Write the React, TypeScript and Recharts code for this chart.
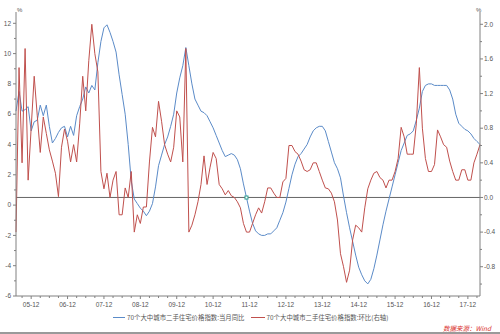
import React from "react";
import { LineChart, Line, XAxis, YAxis, ReferenceLine, ReferenceDot } from "recharts";

// monthly, 2005-07 .. 2018-04
const months: string[] = [];
for (let k = 0; k < 154; k++) {
  const t = 2005 * 12 + 6 + k;
  const yy = String(Math.floor(t / 12) % 100).padStart(2, "0");
  const mm = String((t % 12) + 1).padStart(2, "0");
  months.push(`${yy}-${mm}`);
}

// 当月同比 (left axis, %)
const yoy = [
  6.2, 7.5, 6.2, 6.3, 6.5, 4.9, 5.5, 5.6, 6.6, 5.9, 6.6, 5.2, 4.1, 4.4, 4.8, 5.1, 5.2, 4.5, 5.2, 4.6,
  5.9, 6.5, 7.0, 7.8, 7.4, 7.9, 7.6, 9.4, 10.8, 11.7, 11.9, 11.4, 10.8, 10.1, 8.6, 7.3, 6.0, 4.0, 1.6, 0.4,
  0.1, -0.2, -0.4, -0.7, -0.4, 0.1, 1.2, 2.6, 3.3, 4.0, 4.5, 5.2, 6.0, 7.4, 8.4, 9.2, 10.4, 9.2, 8.0, 7.0,
  6.6, 6.2, 6.1, 5.9, 5.5, 5.1, 4.6, 4.1, 3.6, 3.2, 3.3, 3.4, 3.3, 3.0, 2.4, 1.4, 0.5, -0.4, -1.2, -1.7,
  -1.9, -2.0, -2.0, -1.9, -1.9, -1.7, -1.5, -1.0, -0.5, 0.2, 1.1, 2.0, 2.7, 3.2, 3.4, 3.7, 4.0, 4.5, 4.9, 5.1,
  5.2, 5.2, 4.9, 4.2, 3.5, 2.8, 2.4, 1.8, 0.6, -0.5, -1.5, -2.4, -3.3, -4.1, -4.6, -5.0, -5.2, -4.9, -4.2, -3.3,
  -2.3, -1.3, -0.4, 0.4, 1.2, 2.0, 2.8, 3.6, 4.1, 4.6, 4.7, 4.9, 5.6, 6.4, 7.5, 7.9, 8.0, 8.0, 7.9, 7.9,
  7.9, 7.9, 7.9, 7.6, 7.0, 6.0, 5.4, 5.2, 5.0, 4.9, 4.7, 4.4, 4.2, 4.0,
];

// 环比 (right axis, %)
const mom = [
  -0.4, 1.5, 0.4, 1.72, 0.2, 0.8, 1.4, 0.95, 0.52, 0.93, 0.74, 0.55, 0.42, 0.28, 0.01, 0.58, 0.79, 0.65, 0.41, 0.61,
  0.41, 0.85, 1.4, 1.0, 1.58, 2.0, 1.66, 1.45, 0.3, 0.1, 0.28, 0.0, 0.2, 0.3, -0.2, -0.2, 0.11, 0.0, 0.3, -0.4,
  -0.2, -0.3, -0.11, -0.11, 0.41, 0.81, 0.7, 1.11, 0.88, 0.61, 0.5, 0.41, 0.58, 1.0, 0.93, 0.41, 1.72, -0.4, -0.32, -0.2,
  -0.05, 0.15, 0.48, 0.15, 0.35, 0.52, 0.45, 0.15, 0.1, 0.03, 0.08, 0.02, 0.0, -0.05, -0.12, -0.3, -0.4, -0.4, -0.3, -0.2,
  -0.12, -0.18, -0.05, 0.11, 0.11, 0.05, 0.0, 0.0, 0.18, 0.22, 0.6, 0.6, 0.53, 0.5, 0.42, 0.32, 0.3, 0.32, 0.4, 0.4,
  0.3, 0.2, 0.11, 0.1, 0.05, -0.05, -0.26, -0.65, -0.8, -0.98, -0.84, -0.49, -0.32, -0.35, -0.4, -0.12, 0.1, 0.2, 0.28, 0.3,
  0.23, 0.2, 0.11, 0.2, 0.2, 0.3, 0.45, 0.81, 0.7, 0.5, 0.5, 0.5, 0.85, 1.5, 0.8, 0.45, 0.3, 0.3, 0.38, 0.78,
  0.7, 0.61, 0.58, 0.42, 0.3, 0.2, 0.2, 0.32, 0.32, 0.2, 0.2, 0.4, 0.5, 0.61,
];

const leftTicks = [-6, -5, -4, -3, -2, -1, 0, 1, 2, 3, 4, 5, 6, 7, 8, 9, 10, 11, 12];
const rightTicks = [-1.0, -0.8, -0.6, -0.4, -0.2, 0, 0.2, 0.4, 0.6, 0.8, 1.0, 1.2, 1.4, 1.6, 1.8, 2.0];
const xTicks = months.filter((m) => ["03", "06", "09", "12"].includes(m.slice(3)));

const yoyName = "70个大中城市二手住宅价格指数:当月同比";
const momName = "70个大中城市二手住宅价格指数:环比(右轴)";

const data = months.map((m, i) => ({ m, yoy: yoy[i], mom: mom[i] }));

const BLUE = "#5b8bc8";
const RED = "#c0504d";
const AXIS = "#808080";
const TXT = "#555";
const FONT = "'Liberation Sans', Arial, sans-serif";
const CJK = "'Noto Sans CJK SC', sans-serif";

const LeftTick = (props: any) => {
  const { x, y, payload } = props;
  const v = payload.value;
  const major = v % 2 === 0;
  const ax = x + 5;
  return (
    <g>
      <line x1={ax - (major ? 3 : 2)} x2={ax} y1={y} y2={y} stroke={AXIS} />
      {major && (
        <text x={x} y={y} dy="0.35em" textAnchor="end" fontSize={6.5} fill={TXT} fontFamily={FONT}>
          {v}
        </text>
      )}
    </g>
  );
};

const RightTick = (props: any) => {
  const { x, y, payload } = props;
  const v = payload.value;
  const major = Math.round(v * 10) % 4 === 0;
  const ax = x - 4;
  return (
    <g>
      <line x1={ax} x2={ax + (major ? 3 : 2)} y1={y} y2={y} stroke={AXIS} />
      {major && (
        <text x={x} y={y} dy="0.35em" textAnchor="start" fontSize={6.5} fill={TXT} fontFamily={FONT}>
          {v.toFixed(1)}
        </text>
      )}
    </g>
  );
};

const BottomTick = (props: any) => {
  const { x, y, payload } = props;
  const v: string = payload.value;
  const major = v.slice(3) === "12";
  const ay = y - 6;
  return (
    <g>
      <line x1={x} x2={x} y1={ay} y2={ay + (major ? 3 : 2)} stroke={AXIS} />
      {major && (
        <text x={x} y={y} dy="0.71em" textAnchor="middle" fontSize={6.5} fill={TXT} fontFamily={FONT}>
          {v}
        </text>
      )}
    </g>
  );
};

const Marker = (props: any) => {
  const { cx, cy } = props;
  return <rect x={cx - 1.5} y={cy - 1.5} width={3} height={3} fill="#fff" stroke="#2a9d8f" strokeWidth={1} />;
};

export default function App() {
  return (
    <div style={{ position: "absolute", left: 0, top: 0, width: 500, height: 334, background: "#fff", overflow: "hidden" }}>
      <LineChart width={500} height={334} data={data} margin={{ top: 12, right: 0, bottom: 24, left: 0 }}>
        <XAxis
          dataKey="m"
          ticks={xTicks}
          interval={0}
          tick={<BottomTick />}
          tickLine={false}
          tickSize={3}
          tickMargin={3}
          height={14}
          axisLine={{ stroke: AXIS }}
        />
        <YAxis
          yAxisId="left"
          domain={[-6, 12.746]}
          ticks={leftTicks}
          interval={0}
          allowDataOverflow
          width={16}
          tick={<LeftTick />}
          tickLine={false}
          tickSize={3}
          tickMargin={2}
          axisLine={{ stroke: AXIS }}
        />
        <YAxis
          yAxisId="right"
          orientation="right"
          domain={[-1.138, 2.142]}
          ticks={rightTicks}
          interval={0}
          allowDataOverflow
          width={20}
          tick={<RightTick />}
          tickLine={false}
          tickSize={3}
          tickMargin={1}
          axisLine={{ stroke: AXIS }}
        />
        <ReferenceLine yAxisId="right" y={0} stroke="#666" strokeWidth={1} />
        <Line
          yAxisId="left"
          type="linear"
          dataKey="yoy"
          name={yoyName}
          stroke={BLUE}
          strokeWidth={1}
          dot={false}
          isAnimationActive={false}
        />
        <Line
          yAxisId="right"
          type="linear"
          dataKey="mom"
          name={momName}
          stroke={RED}
          strokeWidth={1}
          dot={false}
          isAnimationActive={false}
        />
        <ReferenceDot yAxisId="left" x={months[76]} y={yoy[76]} shape={<Marker />} />
      </LineChart>

      <div style={{ position: "absolute", left: 17, top: 7, fontSize: 6, color: TXT, fontFamily: FONT }}>%</div>
      <div style={{ position: "absolute", left: 476, top: 7, fontSize: 6, color: TXT, fontFamily: FONT }}>%</div>

      <div style={{ position: "absolute", left: 113, top: 313, display: "flex", alignItems: "center", fontFamily: CJK, fontSize: 6.4, color: TXT, whiteSpace: "nowrap" }}>
        <span style={{ display: "inline-block", width: 12, height: 1, background: BLUE, marginRight: 2 }} />
        <span>{yoyName}</span>
        <span style={{ display: "inline-block", width: 14, height: 1, background: RED, marginLeft: 6, marginRight: 2 }} />
        <span>{momName}</span>
      </div>

      <div style={{ position: "absolute", left: 443, top: 323, fontFamily: CJK, fontSize: 6.5, color: "#d9302c", fontStyle: "italic", whiteSpace: "nowrap" }}>
        数据来源：Wind
      </div>
      <div style={{ position: "absolute", left: 0, top: 332, width: 500, height: 2, background: "#9a9a9a" }} />
    </div>
  );
}
